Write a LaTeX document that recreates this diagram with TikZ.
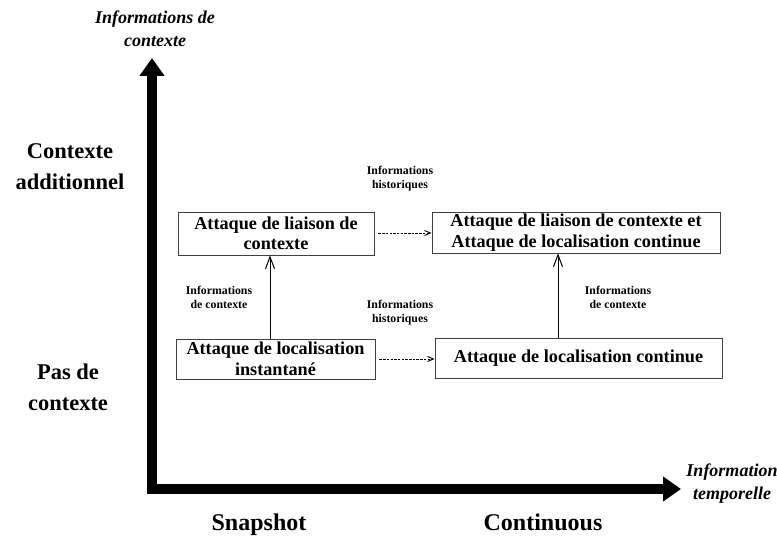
\documentclass[tikz,border=0pt]{standalone}
\usepackage{fontspec}
\setmainfont{Liberation Serif}
\usetikzlibrary{arrows.meta}
\begin{document}
\begin{tikzpicture}[x=1pt,y=-1pt,
  box/.style={draw=black!75,line width=0.8pt,font=\bfseries\fontsize{18.2}{20.5}\selectfont,align=center,inner sep=0pt},
  small/.style={font=\bfseries\fontsize{11.8}{14}\selectfont,align=center},
  axislbl/.style={font=\bfseries\itshape\fontsize{18}{23}\selectfont,align=center},
  level/.style={font=\bfseries\fontsize{22.5}{31}\selectfont,align=center},
  tick/.style={font=\bfseries\fontsize{24}{28}\selectfont,anchor=base},
  axis/.style={line width=10pt,-{Triangle[width=24pt,length=18pt]}},
  up/.style={line width=1pt,-{Straight Barb[length=12pt,width=9pt]}},
  hist/.style={line width=0.9pt,dashed,dash pattern=on 2.5pt off 1.2pt,-{Straight Barb[length=6pt,width=5pt]}}]
\useasboundingbox (0,0) rectangle (777,537);

% axes
\coordinate (ybase) at (152,494);
\coordinate (ytip) at (152,58);
\coordinate (xbase) at (147,489);
\coordinate (xtip) at (681,489);
\draw[axis] (ybase) -- (ytip);
\draw[axis] (xbase) -- (xtip);

\node[axislbl] (ytitle) at (155,28.5) {Informations de\\contexte};
\node[axislbl] (xtitle) at (732,484) {Information\\temporelle};

\node[level] (ctxadd) at (70,167) {Contexte\\additionnel};
\node[level] (noctx) at (68,387) {Pas de\\contexte};
\node[tick] (snap) at (259,530) {Snapshot};
\node[tick] (cont) at (543,530) {Continuous};

% attack boxes
\node[box,minimum width=196pt,minimum height=43pt] (bind) at (276,233.5) {Attaque de liaison de\\contexte};
\node[box,minimum width=288pt,minimum height=41pt] (both) at (576,232.5) {Attaque de liaison de contexte et\\Attaque de localisation continue};
\node[box,minimum width=199pt,minimum height=40pt] (snapatk) at (275.5,359) {Attaque de localisation\\instantané};
\node[box,minimum width=287pt,minimum height=40pt] (contatk) at (578.5,358) {Attaque de localisation continue};

% transitions
\draw[up] (snapatk.north -| 270,0) -- (bind.south -| 270,0);
\draw[up] (contatk.north -| 558,0) -- (both.south -| 558,0);
\draw[hist] (bind.east |- 0,233) ++(4,0) coordinate (h1s) (h1s) -- (both.west |- 0,233);
\draw[hist] (snapatk.east |- 0,359) ++(4,0) coordinate (h2s) (h2s) -- (contatk.west |- 0,359);

\node[small] (lh1) at (400,179) {Informations\\historiques};
\node[small] (lh2) at (400,313) {Informations\\historiques};
\node[small] (lc1) at (219,297) {Informations\\de contexte};
\node[small] (lc2) at (618,297) {Informations\\de contexte};
\end{tikzpicture}
\end{document}
